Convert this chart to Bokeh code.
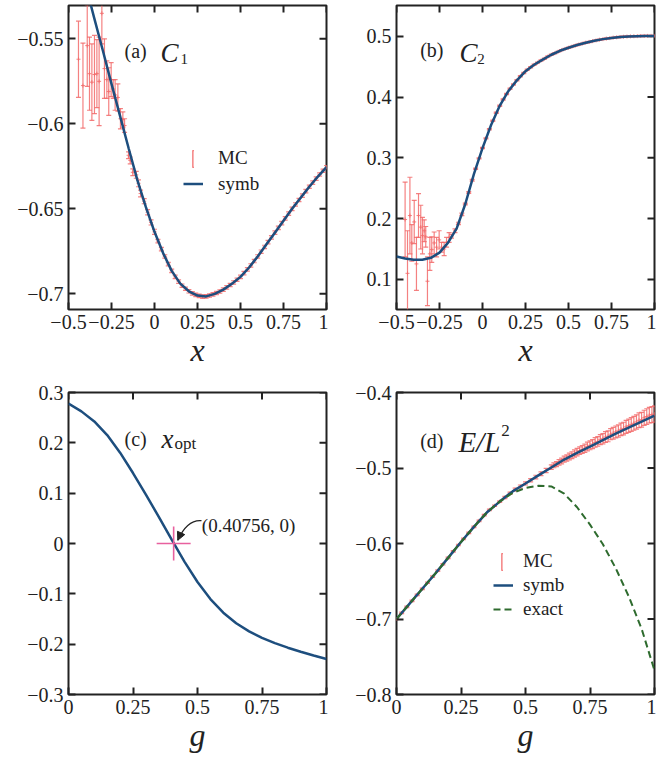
from bokeh.plotting import figure
from bokeh.layouts import column, row
from bokeh.models import (Range1d, LinearAxis, FixedTicker, Legend, LegendItem, Label,
                          Arrow, NormalHead, ColumnDataSource)
from bokeh.embed import file_html
from bokeh.resources import INLINE

SERIF = "Liberation Serif"
INK = "#222222"
BLUE = "#1d4e7e"
RED = "#f26b6b"
GREEN = "#2e6b2e"
PINK = "#e8609e"

# ---------------- ticks & ranges ----------------
X_TICKS_TOP = [-0.5, -0.25, 0, 0.25, 0.5, 0.75, 1]
X_LABELS_TOP = ["\u22120.5", "\u22120.25", "0", "0.25", "0.5", "0.75", "1"]
X_TICKS_BOT = [0, 0.25, 0.5, 0.75, 1]
X_LABELS_BOT = ["0", "0.25", "0.5", "0.75", "1"]
A_YTICKS = [-0.7, -0.65, -0.6, -0.55]
A_YLABELS = ["\u22120.7", "\u22120.65", "\u22120.6", "\u22120.55"]
B_YTICKS = [0.1, 0.2, 0.3, 0.4, 0.5]
B_YLABELS = ["0.1", "0.2", "0.3", "0.4", "0.5"]
C_YTICKS = [-0.3, -0.2, -0.1, 0, 0.1, 0.2, 0.3]
C_YLABELS = ["\u22120.3", "\u22120.2", "\u22120.1", "0", "0.1", "0.2", "0.3"]
D_YTICKS = [-0.8, -0.7, -0.6, -0.5, -0.4]
D_YLABELS = ["\u22120.8", "\u22120.7", "\u22120.6", "\u22120.5", "\u22120.4"]
X_RANGE_TOP = (-0.5, 1.0)
X_RANGE_BOT = (0.0, 1.0)
A_YRANGE = (-0.7092, -0.5304)
B_YRANGE = (0.0505, 0.5505)
C_YRANGE = (-0.3, 0.3)
D_YRANGE = (-0.8, -0.4)

# ---------------- panel (a): C1 ----------------
SYMB_A_X = [-0.4, -0.35, -0.3, -0.25, -0.2, -0.15, -0.1, -0.05, 0, 0.05, 0.1, 0.15, 0.2, 0.25,
            0.3, 0.35, 0.4, 0.45, 0.5, 0.55, 0.6, 0.65, 0.7, 0.75, 0.8, 0.85, 0.9, 0.95, 1.0]
SYMB_A_Y = [-0.5185, -0.538, -0.557, -0.5765, -0.5955, -0.6145, -0.633, -0.649, -0.6635, -0.676,
            -0.6865, -0.694, -0.6985, -0.701, -0.7015, -0.700, -0.6975, -0.694, -0.690, -0.6845,
            -0.678, -0.671, -0.664, -0.657, -0.650, -0.6435, -0.637, -0.631, -0.6255]
MC_A_X = [-0.442, -0.416, -0.391, -0.378, -0.364, -0.349, -0.335, -0.322, -0.306, -0.291, -0.277,
          -0.266, -0.252, -0.240, -0.229, -0.213, -0.198, -0.184, -0.174, -0.151, -0.141, -0.126,
          -0.106, -0.093, -0.081,
          -0.06, -0.04, -0.02, 0.00, 0.02, 0.04, 0.06, 0.08, 0.10, 0.12, 0.14, 0.16, 0.18, 0.20,
          0.22, 0.24, 0.26, 0.28, 0.30, 0.32, 0.34, 0.36, 0.38, 0.40, 0.42, 0.44, 0.46, 0.48, 0.50,
          0.52, 0.54, 0.56, 0.58, 0.60, 0.62, 0.64, 0.66, 0.68, 0.70, 0.72, 0.74, 0.76, 0.78, 0.80,
          0.82, 0.84, 0.86, 0.88, 0.90, 0.92, 0.94, 0.96, 0.98, 1.00]
MC_A_Y = [-0.562, -0.5775, -0.554, -0.5705, -0.5755, -0.571, -0.5705, -0.575, -0.535, -0.5675,
          -0.574, -0.581, -0.574, -0.5795, -0.583, -0.5845, -0.597, -0.5975, -0.601, -0.6185,
          -0.6215, -0.6285, -0.630, -0.635, -0.641,
          -0.6455, -0.652, -0.658, -0.6635, -0.669, -0.6737, -0.678, -0.6825, -0.6865, -0.690,
          -0.6928, -0.6952, -0.697, -0.6985, -0.6997, -0.7006, -0.7012, -0.7016, -0.7015, -0.701,
          -0.7003, -0.6995, -0.6986, -0.6975, -0.6962, -0.6948, -0.6933, -0.6917, -0.690, -0.6878,
          -0.6856, -0.6833, -0.6807, -0.678, -0.6752, -0.6724, -0.6696, -0.6668, -0.664, -0.6612,
          -0.6584, -0.6556, -0.6528, -0.650, -0.6474, -0.6448, -0.6422, -0.6396, -0.637, -0.6346,
          -0.6322, -0.6298, -0.6276, -0.6255]
MC_A_ERR = [0.0224, 0.025, 0.024, 0.0215, 0.0225, 0.023, 0.020, 0.026, 0.018, 0.0175, 0.011,
            0.014, 0.010, 0.0055, 0.009, 0.008, 0.006, 0.0045, 0.004, 0.002, 0.002, 0.002,
            0.002, 0.002, 0.002,
            0.0015, 0.0015, 0.0015, 0.0015, 0.001, 0.001, 0.001, 0.001, 0.001, 0.001, 0.001,
            0.001, 0.001, 0.001, 0.001, 0.001, 0.001, 0.001, 0.001, 0.001, 0.001, 0.001, 0.001,
            0.001, 0.001, 0.001, 0.001, 0.001, 0.001, 0.001, 0.001, 0.001, 0.001, 0.001, 0.001,
            0.001, 0.001, 0.001, 0.001, 0.001, 0.001, 0.001, 0.001, 0.001, 0.001, 0.001, 0.001,
            0.001, 0.001, 0.001, 0.001, 0.001, 0.001, 0.001]

# ---------------- panel (b): C2 ----------------
SYMB_B_X = [-0.5, -0.45, -0.4, -0.35, -0.3, -0.25, -0.2, -0.15, -0.1, -0.05, 0, 0.05, 0.1, 0.15,
            0.2, 0.25, 0.3, 0.35, 0.4, 0.45, 0.5, 0.55, 0.6, 0.65, 0.7, 0.75, 0.8, 0.85, 0.9,
            0.95, 1.0]
SYMB_B_Y = [0.1377, 0.1345, 0.1325, 0.1322, 0.1355, 0.144, 0.1605, 0.184, 0.224, 0.273, 0.316,
            0.354, 0.3855, 0.4095, 0.4275, 0.4425, 0.453, 0.4615, 0.4695, 0.476, 0.481, 0.4855,
            0.4893, 0.4925, 0.4952, 0.4972, 0.4987, 0.4996, 0.5001, 0.5004, 0.5005]
MC_B_X = [-0.450, -0.436, -0.422, -0.411, -0.397, -0.384, -0.372, -0.359, -0.349, -0.339, -0.330,
          -0.320, -0.306, -0.295, -0.281, -0.267, -0.252, -0.238, -0.223, -0.209, -0.194,
          -0.18, -0.16, -0.14, -0.12, -0.10, -0.08, -0.06, -0.04, -0.02, 0.00, 0.02, 0.04, 0.06,
          0.08, 0.10, 0.12, 0.14, 0.16, 0.18, 0.20, 0.22, 0.24, 0.26, 0.28, 0.30, 0.32, 0.34,
          0.36, 0.38, 0.40, 0.42, 0.44, 0.46, 0.48, 0.50, 0.52, 0.54, 0.56, 0.58, 0.60, 0.62,
          0.64, 0.66, 0.68, 0.70, 0.72, 0.74, 0.76, 0.78, 0.80, 0.82, 0.84, 0.86, 0.88, 0.90,
          0.92, 0.94, 0.96, 0.98, 1.00]
MC_B_Y = [0.1985, 0.110, 0.205, 0.160, 0.1945, 0.1255, 0.205, 0.186, 0.172, 0.180, 0.170,
          0.097, 0.142, 0.149, 0.160, 0.153, 0.165, 0.153, 0.150, 0.161, 0.169,
          0.171, 0.180, 0.192, 0.207, 0.224, 0.243, 0.263, 0.282, 0.299, 0.316, 0.332, 0.347,
          0.361, 0.374, 0.3855, 0.396, 0.405, 0.4135, 0.4205, 0.4275, 0.434, 0.4395, 0.4447,
          0.449, 0.453, 0.4565, 0.460, 0.463, 0.4665, 0.4695, 0.472, 0.4746, 0.4771, 0.4791,
          0.481, 0.4828, 0.4846, 0.4863, 0.4878, 0.4893, 0.4906, 0.4919, 0.4931, 0.4942, 0.4952,
          0.4961, 0.4969, 0.4976, 0.4982, 0.4987, 0.4991, 0.4994, 0.4997, 0.4999, 0.5001,
          0.5003, 0.5004, 0.5005, 0.5005, 0.5005]
MC_B_ERR = [0.0615, 0.070, 0.063, 0.030, 0.0355, 0.0435, 0.036, 0.036, 0.030, 0.018, 0.017,
            0.040, 0.027, 0.021, 0.018, 0.016, 0.015, 0.008, 0.011, 0.008, 0.008,
            0.003, 0.003, 0.002, 0.002, 0.0015, 0.0015, 0.0015, 0.001, 0.001, 0.001, 0.001,
            0.001, 0.001, 0.001, 0.001, 0.001, 0.001, 0.001, 0.001, 0.001, 0.001, 0.001, 0.001,
            0.001, 0.001, 0.001, 0.001, 0.001, 0.001, 0.001, 0.001, 0.001, 0.001, 0.001, 0.001,
            0.001, 0.001, 0.001, 0.001, 0.001, 0.001, 0.001, 0.001, 0.001, 0.001, 0.001, 0.001,
            0.001, 0.001, 0.001, 0.001, 0.001, 0.001, 0.001, 0.001, 0.001, 0.001, 0.001, 0.001,
            0.001]

# ---------------- panel (c): x_opt ----------------
SYMB_C_X = [0, 0.05, 0.1, 0.15, 0.2, 0.25, 0.3, 0.35, 0.4, 0.45, 0.5, 0.55, 0.6, 0.65, 0.7,
            0.75, 0.8, 0.85, 0.9, 0.95, 1.0]
SYMB_C_Y = [0.278, 0.2625, 0.2425, 0.2155, 0.1805, 0.140, 0.097, 0.053, 0.0075, -0.0365,
            -0.0765, -0.1105, -0.1375, -0.1585, -0.1745, -0.1875, -0.198, -0.207, -0.215,
            -0.2225, -0.2295]
X_OPT = [0.40756]
Y_OPT = [0.0]
OPT_TEXT = "(0.40756, 0)"

# ---------------- panel (d): E/L^2 ----------------
SYMB_D_X = [0, 0.05, 0.1, 0.15, 0.2, 0.25, 0.3, 0.35, 0.4, 0.45, 0.5, 0.55, 0.6, 0.65, 0.7,
            0.75, 0.8, 0.85, 0.9, 0.95, 1.0]
SYMB_D_Y = [-0.700, -0.680, -0.660, -0.640, -0.619, -0.598, -0.578, -0.559, -0.5445, -0.531,
            -0.5205, -0.5098, -0.4993, -0.4888, -0.480, -0.4716, -0.463, -0.4545, -0.4464,
            -0.4385, -0.4305]
EXACT_D_Y = [-0.700, -0.680, -0.660, -0.640, -0.619, -0.598, -0.578, -0.559, -0.5445, -0.533,
             -0.5265, -0.5235, -0.5245, -0.534, -0.552, -0.575, -0.601, -0.633, -0.670, -0.713,
             -0.768]
MC_D_X = [0.00, 0.02, 0.04, 0.06, 0.08, 0.10, 0.12, 0.14, 0.16, 0.18, 0.20, 0.22, 0.24, 0.26,
          0.28, 0.30, 0.32, 0.34, 0.36, 0.38, 0.40, 0.42, 0.44, 0.46, 0.48, 0.50, 0.52, 0.54,
          0.56, 0.58, 0.60, 0.61, 0.62, 0.63, 0.64, 0.65, 0.66, 0.67, 0.68, 0.69, 0.70, 0.71,
          0.72, 0.73, 0.74, 0.75, 0.76, 0.77, 0.78, 0.79, 0.80, 0.81, 0.82, 0.83, 0.84, 0.85,
          0.86, 0.87, 0.88, 0.89, 0.90, 0.91, 0.92, 0.93, 0.94, 0.95, 0.96, 0.97, 0.98, 0.99,
          1.00]
MC_D_Y = [-0.700, -0.692, -0.684, -0.676, -0.668, -0.660, -0.652, -0.644, -0.636, -0.6275,
          -0.619, -0.6105, -0.602, -0.594, -0.586, -0.578, -0.570, -0.5625, -0.5555, -0.550,
          -0.5445, -0.539, -0.5335, -0.5285, -0.5245, -0.5205, -0.5162, -0.512, -0.5076,
          -0.5034, -0.4988, -0.4965, -0.4948, -0.4925, -0.4908, -0.4884, -0.4868, -0.4848,
          -0.4830, -0.4808, -0.4790, -0.4770, -0.4755, -0.4738, -0.4715, -0.4700, -0.4683,
          -0.4662, -0.4648, -0.4625, -0.4612, -0.4590, -0.4580, -0.4552, -0.4540, -0.4522,
          -0.4510, -0.4488, -0.4478, -0.4456, -0.4440, -0.4425, -0.4408, -0.4390, -0.4368,
          -0.4360, -0.4335, -0.4318, -0.4300, -0.4292, -0.4285]
MC_D_ERR = [0.001, 0.001, 0.001, 0.001, 0.001, 0.001, 0.001, 0.001, 0.001, 0.001, 0.001, 0.001,
            0.001, 0.001, 0.001, 0.001, 0.001, 0.001, 0.001, 0.001, 0.001, 0.0015, 0.0015,
            0.0018, 0.002, 0.002, 0.0022, 0.0024, 0.0026, 0.0028, 0.0030, 0.0032, 0.0033,
            0.0036, 0.0038, 0.0040, 0.0041, 0.0044, 0.0045, 0.0047, 0.0049, 0.0051, 0.0052,
            0.0054, 0.0057, 0.0058, 0.0060, 0.0063, 0.0064, 0.0066, 0.0068, 0.0071, 0.0072,
            0.0074, 0.0077, 0.0078, 0.0080, 0.0083, 0.0084, 0.0086, 0.0088, 0.0091, 0.0092,
            0.0094, 0.0097, 0.0098, 0.0100, 0.0103, 0.0104, 0.0106, 0.0108]

TICK_LEN = 7  # px, ticks point inward on all four sides


def make_panel(x_rng, y_rng, xt, xl, yt, yl, xlabel, width, height, bl, br, bt, bb):
    p = figure(width=width, height=height, x_range=Range1d(*x_rng), y_range=Range1d(*y_rng),
               output_backend="svg", toolbar_location=None,
               x_axis_location=None, y_axis_location=None,
               min_border_left=bl, min_border_right=br, min_border_top=bt, min_border_bottom=bb)
    p.grid.visible = False
    p.outline_line_color = INK
    p.outline_line_width = 2
    p.outline_line_alpha = 1
    p.background_fill_color = "white"
    p.border_fill_color = "white"
    for side in ("below", "left"):
        horiz = side == "below"
        ticks = xt if horiz else yt
        labels = xl if horiz else yl
        ax = LinearAxis(ticker=FixedTicker(ticks=ticks, minor_ticks=[]))
        ax.axis_line_color = None
        ax.major_tick_in = TICK_LEN
        ax.major_tick_out = 0
        ax.major_tick_line_width = 2
        ax.major_tick_line_color = INK
        ax.minor_tick_line_color = None
        ax.major_label_overrides = {t: l for t, l in zip(ticks, labels)}
        ax.major_label_text_font = SERIF
        ax.major_label_text_font_size = "20px"
        ax.major_label_text_color = INK
        ax.major_label_standoff = 5
        if horiz:
            ax.axis_label = xlabel
            ax.axis_label_text_font = SERIF
            ax.axis_label_text_font_style = "italic"
            ax.axis_label_text_font_size = "32px"
            ax.axis_label_text_color = INK
            ax.axis_label_standoff = 0
        p.add_layout(ax, side)
    # inward ticks on the top and right frame edges
    fw = width - bl - br
    fh = height - bt - bb
    dy = TICK_LEN * (y_rng[1] - y_rng[0]) / fh
    dx = TICK_LEN * (x_rng[1] - x_rng[0]) / fw
    n, m = len(xt), len(yt)
    p.segment(x0=xt, y0=[y_rng[1]] * n, x1=xt, y1=[y_rng[1] - dy] * n,
              line_color=INK, line_width=2)
    p.segment(x0=[x_rng[1]] * m, y0=yt, x1=[x_rng[1] - dx] * m, y1=yt,
              line_color=INK, line_width=2)
    return p


def add_mc(p, xs, ys, errs):
    lo = [y - e for y, e in zip(ys, errs)]
    hi = [y + e for y, e in zip(ys, errs)]
    src = ColumnDataSource(dict(x=xs, y=ys, lo=lo, hi=hi))
    bars = p.vbar(x="x", top="hi", bottom="lo", width=1e-9, source=src, fill_alpha=0,
                  line_color=RED, line_width=1.2, line_alpha=0.85)
    for col in ("lo", "hi"):
        p.scatter("x", col, source=src, marker="dash", size=5, line_color=RED,
                  line_width=1.2, line_alpha=0.85)
    p.scatter("x", "y", source=src, marker="cross", size=4, line_color=RED, line_width=1,
              line_alpha=0.85)
    return bars


def label(p, x, y, text, size, style="normal"):
    p.add_layout(Label(x=x, y=y, text=text, text_font=SERIF, text_font_size=size,
                       text_font_style=style, text_color=INK, text_baseline="alphabetic",
                       text_align="left"))


def add_legends(p, mc_r, line_items, mc_loc, mc_so, line_loc, line_so, line_h):
    common = dict(label_text_font=SERIF, label_text_font_size="19px", label_text_color=INK,
                  background_fill_alpha=0, border_line_alpha=0, padding=0, margin=0,
                  spacing=0, label_height=18)
    leg1 = Legend(items=[LegendItem(label="MC", renderers=[mc_r])], location=mc_loc,
                  glyph_width=2, glyph_height=21, label_standoff=mc_so, **common)
    leg2 = Legend(items=[LegendItem(label=l, renderers=[r]) for l, r in line_items],
                  location=line_loc, glyph_width=20, glyph_height=line_h,
                  label_standoff=line_so, **common)
    p.add_layout(leg1)
    p.add_layout(leg2)


# ---------- (a) ----------
pa = make_panel(X_RANGE_TOP, A_YRANGE, X_TICKS_TOP, X_LABELS_TOP, A_YTICKS, A_YLABELS,
                "x", 328, 380, 68, 2, 5, 71)
mc_a = add_mc(pa, MC_A_X, MC_A_Y, MC_A_ERR)
sa = pa.line(SYMB_A_X, SYMB_A_Y, line_color=BLUE, line_width=2.5)
label(pa, -0.1744, -0.5569, "(a)", "20px")
label(pa, 0.035, -0.5584, "C", "27px", "italic")
label(pa, 0.151, -0.5618, "1", "15px")
add_legends(pa, mc_a, [("symb", sa)], (124, 140), 24, (115, 113), 15, 25)

# ---------- (b) ----------
pb = make_panel(X_RANGE_TOP, B_YRANGE, X_TICKS_TOP, X_LABELS_TOP, B_YTICKS, B_YLABELS,
                "x", 328, 380, 68, 2, 5, 71)
add_mc(pb, MC_B_X, MC_B_Y, MC_B_ERR)
pb.line(SYMB_B_X, SYMB_B_Y, line_color=BLUE, line_width=2.5)
label(pb, -0.3622, 0.4765, "(b)", "20px")
label(pb, -0.134, 0.472, "C", "27px", "italic")
label(pb, -0.030, 0.4625, "2", "15px")

# ---------- (c) ----------
pc = make_panel(X_RANGE_BOT, C_YRANGE, X_TICKS_BOT, X_LABELS_BOT, C_YTICKS, C_YLABELS,
                "g", 328, 379, 68, 2, 12, 65)
pc.line(SYMB_C_X, SYMB_C_Y, line_color=BLUE, line_width=2.5)
pc.scatter(X_OPT, Y_OPT, marker="cross", size=34, line_color=PINK, line_width=1.6)
label(pc, 0.217, 0.2076, "(c)", "20px")
label(pc, 0.3605, 0.2076, "x", "27px", "italic")
label(pc, 0.4109, 0.1985, "opt", "17px")
label(pc, 0.5167, 0.0363, OPT_TEXT, "19px")
pc.bezier(x0=[0.5155], y0=[0.0454], x1=[0.4236], y1=[0.0065], cx0=[0.4729], cy0=[0.0474],
          cx1=[0.4457], cy1=[0.0315], line_color=INK, line_width=1.3)
pc.add_layout(Arrow(end=NormalHead(size=8, fill_color=INK, line_color=INK, line_width=1),
                    x_start=0.4300, y_start=0.0137, x_end=0.4236, y_end=0.0065,
                    line_color=INK, line_width=1.3))

# ---------- (d) ----------
pd = make_panel(X_RANGE_BOT, D_YRANGE, X_TICKS_BOT, X_LABELS_BOT, D_YTICKS, D_YLABELS,
                "g", 328, 379, 68, 2, 12, 65)
mc_d = add_mc(pd, MC_D_X, MC_D_Y, MC_D_ERR)
sd = pd.line(SYMB_D_X, SYMB_D_Y, line_color=BLUE, line_width=2.5)
ed = pd.line(SYMB_D_X, EXACT_D_Y, line_color=GREEN, line_width=2, line_dash="7 4")
label(pd, 0.0919, -0.4638, "(d)", "20px")
label(pd, 0.2403, -0.4652, "E/L", "29px", "italic")
label(pd, 0.406, -0.4506, "2", "17px")
add_legends(pd, mc_d, [("symb", sd), ("exact", ed)], (105, 122), 20, (97, 73), 10, 24)

layout = column(row(pa, pb, spacing=0), row(pc, pd, spacing=0), spacing=0)

with open("out.html", "w") as f:
    f.write(file_html(layout, INLINE))
